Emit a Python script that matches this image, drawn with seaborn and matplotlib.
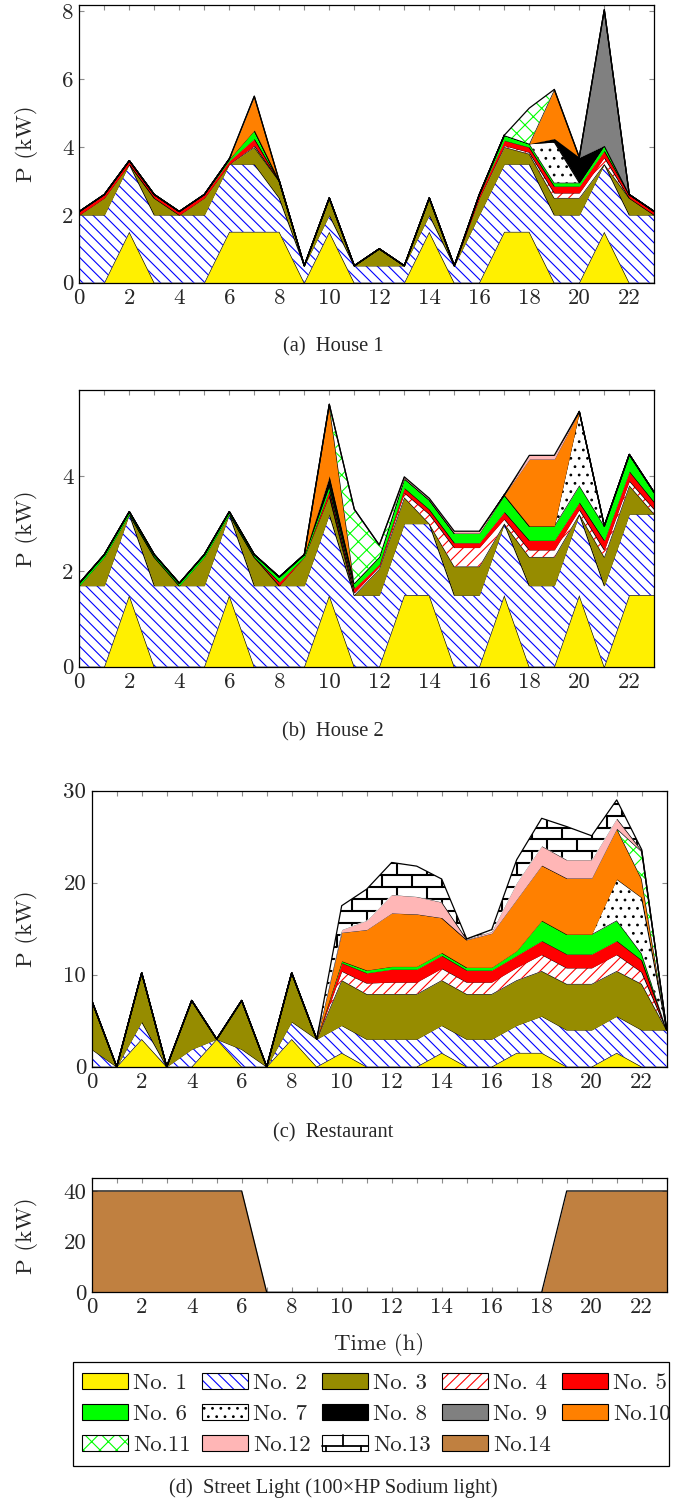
import numpy as np
import seaborn as sns
import matplotlib
matplotlib.use("Agg")
import matplotlib.pyplot as plt
import matplotlib.transforms as mtransforms
from matplotlib.patches import Patch, Rectangle
from matplotlib.lines import Line2D
from matplotlib.collections import LineCollection
from matplotlib.legend_handler import HandlerBase

hours = list(range(24))

# House 1 (kW per hour, appliance No.)
h1_no1 = [0, 0, 1.5, 0, 0, 0, 1.5, 1.5, 1.5, 0, 1.5, 0, 0, 0, 1.5, 0, 0, 1.5, 1.5, 0, 0, 1.5, 0, 0]
h1_no2 = [2, 2, 2, 2, 2, 2, 2, 2, 1.0, 0.5, 0.5, 0.5, 0.5, 0.5, 0.5, 0.5, 2, 2, 2, 2, 2, 2, 2, 2]
h1_no3 = [0, 0.5, 0, 0.5, 0, 0.5, 0, 0.5, 0.5, 0, 0.5, 0, 0.5, 0, 0.5, 0, 0.5, 0.5, 0.3, 0.5, 0.5, 0, 0.5, 0]
h1_no4 = [0, 0, 0, 0, 0, 0, 0, 0.05, 0, 0, 0, 0, 0, 0, 0, 0, 0, 0.05, 0.05, 0.15, 0.15, 0.2, 0, 0]
h1_no5 = [0.1, 0.1, 0.1, 0.1, 0.1, 0.1, 0.1, 0.2, 0, 0, 0, 0, 0, 0, 0, 0, 0.1, 0.15, 0.15, 0.2, 0.2, 0.2, 0.1, 0.1]
h1_no6 = [0, 0, 0, 0, 0, 0, 0.05, 0.25, 0, 0, 0, 0, 0, 0, 0, 0, 0, 0.15, 0.1, 0.1, 0.1, 0.15, 0, 0]
h1_no7 = [0, 0, 0, 0, 0, 0, 0, 0, 0, 0, 0, 0, 0, 0, 0, 0, 0, 0, 0, 1.2, 0, 0, 0, 0]
h1_no8 = [0, 0, 0, 0, 0, 0, 0, 0, 0, 0, 0, 0, 0, 0, 0, 0, 0, 0, 0, 0.1, 0.75, 0, 0, 0]
h1_no9 = [0, 0, 0, 0, 0, 0, 0, 0, 0, 0, 0, 0, 0, 0, 0, 0, 0, 0, 0, 0, 0, 4.0, 0, 0]
h1_no10 = [0, 0, 0, 0, 0, 0, 0, 1.0, 0, 0, 0, 0, 0, 0, 0, 0, 0, 0, 0, 1.45, 0, 0, 0, 0]
h1_no11 = [0, 0, 0, 0, 0, 0, 0, 0, 0, 0, 0, 0, 0, 0, 0, 0, 0, 0, 1.05, 0, 0, 0, 0, 0]

# House 2
h2_no1 = [0, 0, 1.5, 0, 0, 0, 1.5, 0, 0, 0, 1.5, 0, 0, 1.5, 1.5, 0, 0, 1.5, 0, 0, 1.5, 0, 1.5, 1.5]
h2_no2 = [1.7] * 11 + [1.5] * 7 + [1.7] * 6
h2_no3 = [0, 0.6, 0, 0.6, 0, 0.6, 0, 0.6, 0, 0.6, 0.4, 0, 0.55, 0.55, 0, 0.6, 0.6, 0, 0.6, 0.6, 0, 0.6, 0.6, 0]
h2_no4 = [0] * 11 + [0.05, 0.05, 0.1, 0.2, 0.4, 0.4, 0.1, 0.15, 0.15, 0.1, 0.15, 0.1, 0.1]
h2_no5 = [0, 0, 0, 0, 0, 0, 0, 0, 0.08, 0, 0.1, 0.1, 0.05, 0.1, 0.1, 0.1, 0.1, 0.15, 0.2, 0.2, 0.15, 0.2, 0.2, 0.15]
h2_no6 = [0.05] * 8 + [0.1, 0.05, 0.1, 0.1, 0.15, 0.2, 0.2, 0.2, 0.2, 0.35, 0.3, 0.3, 0.35, 0.3, 0.35, 0.2]
h2_no7 = [0] * 20 + [1.55, 0, 0, 0]
h2_no8 = [0] * 10 + [0.2] + [0] * 13
h2_no10 = [0] * 10 + [1.5] + [0] * 7 + [1.4, 1.4] + [0] * 4
h2_no11 = [0] * 11 + [1.55, 0.25] + [0] * 11
h2_no12 = [0] * 13 + [0.03, 0.03, 0.04, 0.04, 0, 0.08, 0.08, 0, 0, 0, 0]

# Restaurant
r_no1 = [0, 0, 3, 0, 0, 3, 0, 0, 3, 0, 1.5, 0, 0, 0, 1.5, 0, 0, 1.5, 1.5, 0, 0, 1.5, 0, 0]
r_no2 = [1.9, 0, 1.9, 0, 1.9, 0, 1.9, 0, 1.9, 3, 3, 3, 3, 3, 3, 3, 3, 3, 4, 4, 4, 4, 4, 4]
r_no3 = [5.3, 0, 5.3, 0, 5.3, 0, 5.3, 0, 5.3, 0, 4.9, 4.9, 4.9, 4.9, 4.9, 4.9, 4.9, 4.9, 4.9, 5.0, 5.0, 4.9, 5.0, 0]
r_no4 = [0] * 10 + [1.0, 1.2, 1.3, 1.3, 1.3, 1.3, 1.3, 1.4, 1.8, 1.75, 1.75, 1.8, 1.3, 0]
r_no5 = [0] * 10 + [0.9, 1.1, 1.4, 1.4, 1.4, 1.3, 1.3, 1.3, 1.5, 1.5, 1.5, 1.5, 1.3, 0]
r_no6 = [0] * 10 + [0.2, 0.3, 0.3, 0.3, 0.3, 0.3, 0.3, 0.5, 2.2, 2.15, 2.15, 2.2, 0.7, 0]
r_no7 = [0] * 21 + [4.5, 6.1, 0]
r_no10 = [0] * 10 + [3.1, 4.4, 5.8, 5.7, 3.8, 3.0, 3.7, 5.6, 6.0, 6.1, 6.1, 5.5, 2.0, 0]
r_no11 = [0] * 22 + [3.0, 0]
r_no12 = [0] * 10 + [0.3, 1.0, 2.0, 1.9, 1.7, 0.05, 0.2, 1.8, 2.1, 2.0, 2.0, 1.1, 0.1, 0]
r_no13 = [0] * 10 + [2.6, 3.4, 3.5, 3.3, 2.5, 0.05, 0.2, 2.5, 3.0, 3.6, 2.6, 2.0, 0.1, 0]

# Street light
st_no14 = [40] * 7 + [0] * 12 + [40] * 5

labels = ["No. %d" % i if i < 10 else "No.%d" % i for i in range(1, 15)]

styles = {
    1: dict(fc="#FFF000"),
    2: dict(fc="white", hatch="\\\\\\", hc="#0000FF"),
    3: dict(fc="#968C00"),
    4: dict(fc="white", hatch="///", hc="#FF0000"),
    5: dict(fc="#FF0000"),
    6: dict(fc="#00FF00"),
    7: dict(fc="white", hatch="..", hc="black"),
    8: dict(fc="black"),
    9: dict(fc="#808080"),
    10: dict(fc="#FF8000"),
    11: dict(fc="white", hatch="xx", hc="#00FF00"),
    12: dict(fc="#FFB6B6"),
    13: dict(fc="white", bricks=True),
    14: dict(fc="#C08040"),
}

sns.set_theme(style="ticks")
plt.rcParams["font.family"] = ["cmr10", "DejaVu Serif"]
plt.rcParams["mathtext.fontset"] = "cm"
plt.rcParams["axes.formatter.use_mathtext"] = True
plt.rcParams["hatch.linewidth"] = 0.8
plt.rcParams["axes.unicode_minus"] = False

W, H = 697, 1509
fig = plt.figure(figsize=(W / 100, H / 100), dpi=100)


def add_bricks(ax, coll, bw, bh, ymax, z):
    segs = []
    k = 0
    while k * bh <= ymax + bh:
        y0 = k * bh
        segs.append([(-1, y0), (25, y0)])
        x = -1 + (k % 2) * bw / 2
        while x <= 25:
            segs.append([(x, y0), (x, y0 + bh)])
            x += bw
        k += 1
    lc = LineCollection(segs, colors="black", linewidths=1.5, zorder=z)
    lc.set_clip_path(coll.get_paths()[0], ax.transData)
    ax.add_collection(lc, autolim=False)


def draw_stack(ax, series, ymax, brick=(1.2, 1.3)):
    base = np.zeros(len(hours))
    for i, (no, vals) in enumerate(series):
        top = base + np.asarray(vals, dtype=float)
        st = styles[no]
        z = 2 + i * 0.1
        if "hatch" in st:
            coll = ax.fill_between(hours, base, top, facecolor="white", edgecolor=st["hc"],
                                   hatch=st["hatch"], linewidth=0, zorder=z)
        else:
            coll = ax.fill_between(hours, base, top, facecolor=st["fc"], linewidth=0, zorder=z)
        if st.get("bricks"):
            add_bricks(ax, coll, brick[0], brick[1], ymax, z + 0.01)
        sns.lineplot(x=hours, y=top, color="black", linewidth=0.9, ax=ax, zorder=z + 0.05)
        base = top


def style_axes(ax, ymax, yticks):
    ax.set_xlim(0, 23)
    ax.set_ylim(0, ymax)
    ax.set_xticks(hours)
    ax.set_xticklabels([str(h) if h % 2 == 0 else "" for h in hours], fontsize=16.5)
    ax.set_yticks(yticks)
    ax.set_yticklabels([str(v) for v in yticks], fontsize=16.5)
    ax.tick_params(direction="in", top=True, right=True, length=3.6, width=0.8,
                   color="0.55", pad=4)
    for sp in ax.spines.values():
        sp.set_color("black")
        sp.set_linewidth(0.9)
        sp.set_zorder(5)
    ax.set_xlabel("")
    ax.set_ylabel("P (kW)", fontsize=16.5)
    tr = mtransforms.blended_transform_factory(fig.transFigure, ax.transAxes)
    ax.yaxis.set_label_coords(27 / W, 0.5, transform=tr)
    ax.yaxis.label.set_va("center")


def axes_at(left, top, bottom):
    return fig.add_axes([left / W, 1 - bottom / H, 575 / W, (bottom - top) / H])


ax_a = axes_at(79.3, 4.7, 282.7)
draw_stack(ax_a, [(1, h1_no1), (2, h1_no2), (3, h1_no3), (4, h1_no4), (5, h1_no5),
                  (6, h1_no6), (7, h1_no7), (8, h1_no8), (9, h1_no9), (10, h1_no10),
                  (11, h1_no11)], 8.2)
style_axes(ax_a, 8.2, [0, 2, 4, 6, 8])

ax_b = axes_at(79.3, 390, 666.7)
draw_stack(ax_b, [(1, h2_no1), (2, h2_no2), (3, h2_no3), (4, h2_no4), (5, h2_no5),
                  (6, h2_no6), (7, h2_no7), (8, h2_no8), (10, h2_no10), (11, h2_no11),
                  (12, h2_no12)], 5.8)
style_axes(ax_b, 5.8, [0, 2, 4])

ax_c = axes_at(91.7, 790.7, 1066.7)
draw_stack(ax_c, [(1, r_no1), (2, r_no2), (3, r_no3), (4, r_no4), (5, r_no5),
                  (6, r_no6), (7, r_no7), (10, r_no10), (11, r_no11), (12, r_no12),
                  (13, r_no13)], 30)
style_axes(ax_c, 30, [0, 10, 20, 30])

ax_d = axes_at(91.7, 1178.3, 1292.3)
draw_stack(ax_d, [(14, st_no14)], 45)
style_axes(ax_d, 45, [0, 20, 40])
ax_d.set_xlabel("Time (h)", fontsize=16.5)
trx = mtransforms.blended_transform_factory(ax_d.transAxes, fig.transFigure)
ax_d.xaxis.set_label_coords(0.5, 1 - 1345 / H, transform=trx)
ax_d.xaxis.label.set_va("center")


class BrickKey:
    pass


class BrickHandler(HandlerBase):
    def create_artists(self, legend, orig_handle, xdescent, ydescent, width, height,
                       fontsize, trans):
        x0, y0 = -xdescent, -ydescent
        ym = y0 + height * 0.3
        arts = [Rectangle((x0, y0), width, height, facecolor="white", edgecolor="black",
                          linewidth=0.8, transform=trans)]
        for xs, ys in [([x0, x0 + width], [ym, ym]),
                       ([x0 + width * 0.45] * 2, [ym, y0 + height]),
                       ([x0 + width * 0.1] * 2, [y0, ym]),
                       ([x0 + width * 0.85] * 2, [y0, ym])]:
            arts.append(Line2D(xs, ys, color="black", linewidth=1.3, transform=trans))
        return arts


def make_handle(no):
    st = styles[no]
    if st.get("bricks"):
        return BrickKey()
    if "hatch" in st:
        return (Patch(facecolor="white", edgecolor=st["hc"], hatch=st["hatch"], linewidth=0),
                Patch(facecolor="none", edgecolor="black", linewidth=0.8))
    return Patch(facecolor=st["fc"], edgecolor="black", linewidth=0.8)


# matplotlib fills legend columns first; reorder so rows read No.1..No.5, No.6..No.10, ...
order = [1, 6, 11, 2, 7, 12, 3, 8, 13, 4, 9, 14, 5, 10]
leg = fig.legend([make_handle(n) for n in order], [labels[n - 1] for n in order],
                 loc="upper left", bbox_to_anchor=(82 / W, 1 - 1373 / H),
                 bbox_transform=fig.transFigure, ncol=5, fontsize=16.5, frameon=False,
                 borderpad=0, handlelength=2.0, handleheight=0.7, handletextpad=0.22,
                 columnspacing=0.5, labelspacing=0.47, borderaxespad=0,
                 handler_map={BrickKey: BrickHandler()})
fig.patches.append(Rectangle((73 / W, 1 - 1466 / H), 596 / W, 104 / H, fill=False,
                             edgecolor="black", linewidth=0.9, transform=fig.transFigure))

captions = [("(a)  House 1", 347), ("(b)  House 2", 732), ("(c)  Restaurant", 1133),
            ("(d)  Street Light (100\u00d7HP Sodium light)", 1488)]
for txt, yc in captions:
    fig.text(333 / W, 1 - yc / H, txt, ha="center", va="center", fontsize=14.8,
             family="Liberation Serif")

fig.savefig("out.png", dpi=100)
